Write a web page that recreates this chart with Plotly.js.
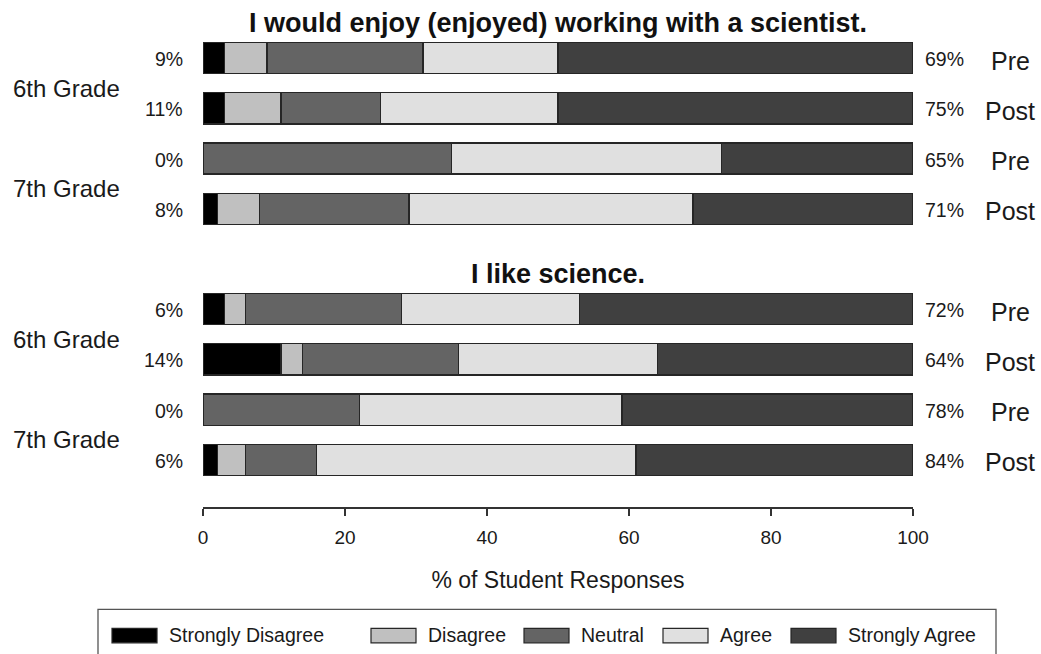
<!DOCTYPE html>
<html>
<head>
<meta charset="utf-8">
<script src="https://cdn.plot.ly/plotly-3.0.1.min.js"></script>
<style>html,body{margin:0;padding:0;background:#fff;}#chart{width:1041px;height:654px;}</style>
</head>
<body>
<div id="chart"></div>
<script>
// ---- data ----
const questions = ['I would enjoy (enjoyed) working with a scientist.', 'I like science.'];
const rowGrade = ['6th Grade', '6th Grade', '7th Grade', '7th Grade'];
const rowTime = ['Pre', 'Post', 'Pre', 'Post'];
const responses = ['Strongly Disagree', 'Disagree', 'Neutral', 'Agree', 'Strongly Agree'];
// 8 rows: question 1 (6th Pre, 6th Post, 7th Pre, 7th Post), then question 2 (same order)
const stronglyDisagree = [3, 3, 0, 2, 3, 11, 0, 2];
const disagree        = [6, 8, 0, 6, 3, 3, 0, 4];
const neutral         = [22, 14, 35, 21, 22, 22, 22, 10];
const agree           = [19, 25, 38, 40, 25, 28, 37, 45];
const stronglyAgree   = [50, 50, 27, 31, 47, 36, 41, 39];
const xTicks = [0, 20, 40, 60, 80, 100];

// ---- styles ----
const fills = ['#000000', '#c0c0c0', '#646464', '#e0e0e0', '#404040'];
const edge = '#262626';
const FONT = 'Liberation Sans, Arial, sans-serif';
const txt = '#1a1a1a';

const series = [stronglyDisagree, disagree, neutral, agree, stronglyAgree];
const nRows = rowTime.length;
const yPos = [];
questions.forEach((q, qi) => rowTime.forEach((t, ri) => yPos.push(qi * (nRows + 1) + ri)));

const traces = series.map((vals, k) => ({
  type: 'bar', orientation: 'h', name: responses[k],
  x: vals, y: yPos, width: 0.62,
  marker: {color: fills[k], line: {color: edge, width: 1.3}},
  showlegend: false, hoverinfo: 'x+name'
}));

// plot geometry (pixels)
const L = 203, R = 913, T = 27.7, B = 506.7;
const W = 1041, H = 654;
const px2paperX = X => (X - L) / (R - L);
const px2paperY = Y => (B - Y) / (B - T);
const SPACING = (B - T) / 9.54;  // pixels per row unit

const annotations = [];
// titles (placed just above each block of rows)
questions.forEach((q, qi) => {
  const rowTopPx = T + (qi * (nRows + 1) - 0.7 + 0.6) * SPACING;
  annotations.push({xref: 'paper', yref: 'paper', x: 0.5, y: px2paperY(rowTopPx), text: '<b>' + q + '</b>',
    showarrow: false, xanchor: 'center', yanchor: 'middle', font: {family: FONT, size: 27, color: '#111'}});
});
yPos.forEach((y, i) => {
  const low = stronglyDisagree[i] + disagree[i];
  const high = agree[i] + stronglyAgree[i];
  annotations.push({xref: 'paper', yref: 'y', x: px2paperX(185), y: y + 0.02, text: low + '%',
    showarrow: false, xanchor: 'right', yanchor: 'middle', font: {family: FONT, size: 19.5, color: txt}});
  annotations.push({xref: 'paper', yref: 'y', x: px2paperX(923), y: y + 0.02, text: high + '%',
    showarrow: false, xanchor: 'left', yanchor: 'middle', font: {family: FONT, size: 19.5, color: txt}});
  annotations.push({xref: 'paper', yref: 'y', x: px2paperX(1010), y: y + 0.05, text: rowTime[i % nRows],
    showarrow: false, xanchor: 'center', yanchor: 'middle', font: {family: FONT, size: 25, color: txt}});
});
// grade labels (centered between their two rows)
questions.forEach((q, qi) => {
  for (let r = 0; r < nRows; r += 2) {
    annotations.push({xref: 'paper', yref: 'y', x: px2paperX(11), y: qi * (nRows + 1) + r + 0.6,
      text: rowGrade[r], showarrow: false, xanchor: 'left', yanchor: 'middle',
      font: {family: FONT, size: 24, color: txt}});
  }
});

// legend (manual, boxed)
const shapes = [];
shapes.push({type: 'rect', xref: 'paper', yref: 'paper', x0: px2paperX(98), x1: px2paperX(996),
  y0: px2paperY(609), y1: px2paperY(700), line: {color: '#555', width: 1.3}, fillcolor: 'rgba(0,0,0,0)'});
const swX = [112, 371, 524, 663, 791];
const swW = 45;
responses.forEach((r, k) => {
  shapes.push({type: 'rect', xref: 'paper', yref: 'paper', x0: px2paperX(swX[k]), x1: px2paperX(swX[k] + swW),
    y0: px2paperY(628), y1: px2paperY(642.5), fillcolor: fills[k], line: {color: edge, width: 1.2}});
  annotations.push({xref: 'paper', yref: 'paper', x: px2paperX(swX[k] + swW + 10), y: px2paperY(635),
    text: r, showarrow: false, xanchor: 'left', yanchor: 'middle', font: {family: FONT, size: 19.5, color: txt}});
});

const layout = {
  width: W, height: H,
  margin: {l: L, r: W - R, t: T, b: H - B, pad: 0},
  paper_bgcolor: '#fff', plot_bgcolor: '#fff',
  barmode: 'stack', bargap: 0,
  font: {family: FONT, color: txt},
  xaxis: {
    range: [0, 100], tickvals: xTicks, ticktext: xTicks.map(String),
    showgrid: false, zeroline: false, showline: true, linecolor: '#333', linewidth: 1.5,
    ticks: 'outside', ticklen: 7, tickwidth: 1.5, tickcolor: '#333',
    ticklabelstandoff: 6,
    tickfont: {family: FONT, size: 19, color: txt},
    title: {text: '% of Student Responses', font: {family: FONT, size: 23, color: txt}, standoff: 24},
    automargin: false, fixedrange: true
  },
  yaxis: {
    range: [8.94, -0.6], showgrid: false, zeroline: false, showline: false,
    showticklabels: false, ticks: '', automargin: false, fixedrange: true
  },
  annotations: annotations,
  shapes: shapes,
  showlegend: false
};

Plotly.newPlot('chart', traces, layout, {displayModeBar: false, staticPlot: true});
</script>
</body>
</html>
